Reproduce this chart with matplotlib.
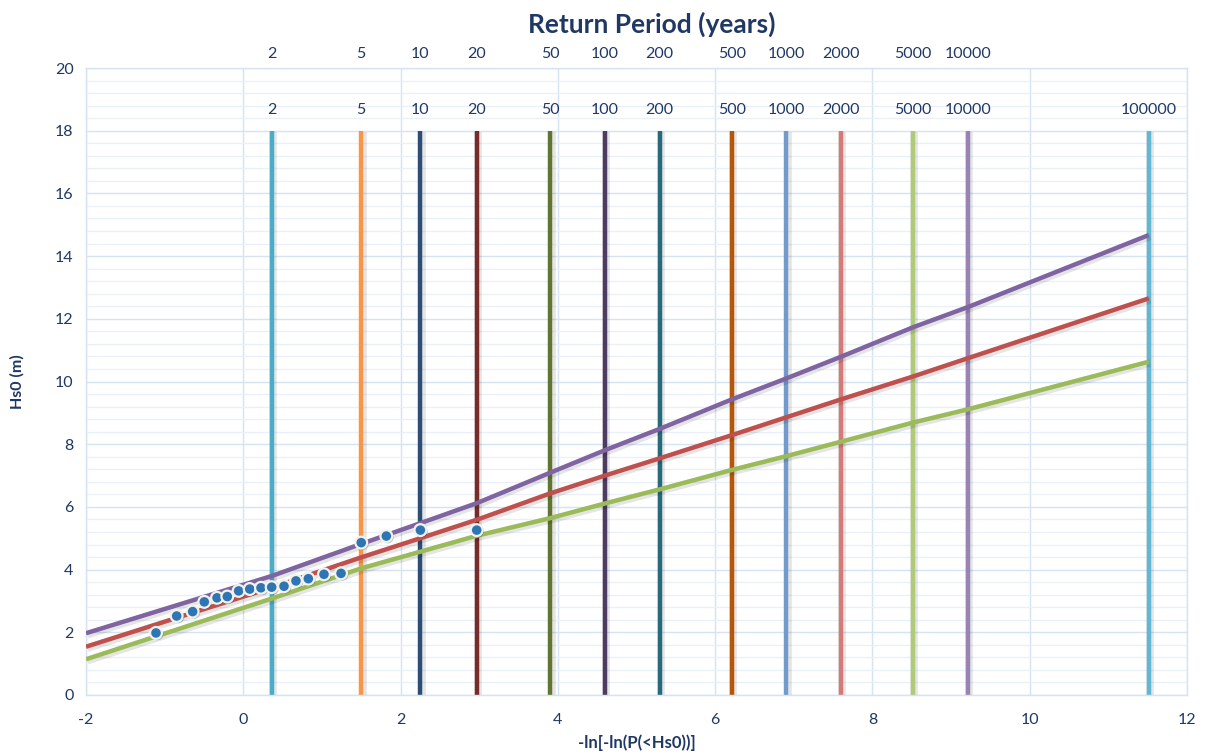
import matplotlib
matplotlib.use("Agg")
import matplotlib.pyplot as plt
import matplotlib.patheffects as pe
import numpy as np

# ---- data ----
return_periods = [2, 5, 10, 20, 50, 100, 200, 500, 1000, 2000, 5000, 10000, 100000]
period_colors = ["#4BACC6", "#F79646", "#2C4D75", "#772C2A", "#5F7530", "#4D3B62",
                 "#276A7C", "#B65708", "#729ACA", "#D47A77", "#AFCB77", "#9983B5", "#62B8D3"]
top_labels = [2, 5, 10, 20, 50, 100, 200, 500, 1000, 2000, 5000, 10000]

obs_x = [-1.110, -0.847, -0.644, -0.496, -0.334, -0.203, -0.059, 0.082, 0.225, 0.361,
         0.518, 0.670, 0.827, 1.026, 1.243, 1.500, 1.819, 2.252, 2.968]
obs_y = [1.98, 2.52, 2.66, 2.97, 3.10, 3.14, 3.32, 3.38, 3.42, 3.44,
         3.47, 3.64, 3.71, 3.85, 3.88, 4.86, 5.07, 5.26, 5.26]

# fitted curves, evaluated at x = -2 and at each return-period position
fit_start_x = -2.0
fit_upper = [1.97, 3.80, 4.82, 5.48, 6.12, 7.09, 7.81, 8.49, 9.43, 10.10, 10.79, 11.73, 12.37, 14.67]
fit_mid = [1.54, 3.43, 4.39, 5.00, 5.59, 6.43, 7.00, 7.55, 8.29, 8.86, 9.43, 10.16, 10.74, 12.65]
fit_lower = [1.14, 3.08, 4.04, 4.57, 5.08, 5.64, 6.11, 6.56, 7.18, 7.62, 8.08, 8.69, 9.11, 10.63]

text_color = "#1F3864"
grid_major = "#D6E3F3"
grid_minor = "#EAF0F8"

plt.rcParams['font.family'] = ['Lato', 'DejaVu Sans']
plt.rcParams['axes.unicode_minus'] = False

def gumbel_x(T):
    return -np.log(-np.log(1 - 1 / T))

fig = plt.figure(figsize=(12.09, 7.56), dpi=100)
ax = fig.add_axes([86 / 1209, 61 / 756, (1187 - 86) / 1209, (695 - 68) / 756])

ax.set_xlim(-2, 12)
ax.set_ylim(0, 20)
ax.set_xticks(np.arange(-2, 13, 2))
ax.set_yticks(np.arange(0, 21, 2))
ax.set_yticks(np.arange(0, 20.01, 0.4), minor=True)
ax.grid(True, which='major', color=grid_major, lw=1.0, zorder=0)
ax.grid(True, which='minor', axis='y', color=grid_minor, lw=1.0, zorder=0)
ax.set_axisbelow(True)
for s in ax.spines.values():
    s.set_color(grid_major)
    s.set_linewidth(1.0)
ax.tick_params(which='both', length=0, colors=text_color, labelsize=11.5, pad=9)
ax.tick_params(axis='x', pad=13)

shadow = [pe.SimpleLineShadow(offset=(1.0, -1.0), shadow_color='#000000', alpha=0.10, linewidth=5.5), pe.Normal()]

# vertical return-period lines
for T, c in zip(return_periods, period_colors):
    xv = gumbel_x(T)
    ax.plot([xv, xv], [0, 18], color=c, lw=3.2, zorder=2, solid_capstyle='butt', path_effects=shadow)
    ax.text(xv, 18.45, str(T), ha='center', va='bottom', color=text_color, fontsize=11.5, zorder=5)

# top labels above the plot area
for T in top_labels:
    ax.text(gumbel_x(T), 20.22, str(T), ha='center', va='bottom', color=text_color, fontsize=11.5,
            clip_on=False)

# fitted curves
curve_x = [fit_start_x] + [gumbel_x(T) for T in return_periods]
for vals, c in [(fit_upper, "#8064A2"), (fit_mid, "#C0504D"), (fit_lower, "#9BBB59")]:
    ax.plot(curve_x, vals, color=c, lw=3.2, zorder=3, solid_capstyle='butt', path_effects=shadow)

# observations
ax.plot(obs_x, obs_y, ls='none', marker='o', ms=8.5, mfc="#2E75B6", mec="#F2F2EA", mew=1.6, zorder=4,
        path_effects=[pe.SimplePatchShadow(offset=(1, -1), alpha=0.3), pe.Normal()])

ax.set_xlabel("-ln[-ln(P(<Hs0))]", color=text_color, fontsize=12, fontweight='bold', labelpad=5)
ax.set_ylabel("Hs0 (m)", color=text_color, fontsize=11.5, fontweight='bold', labelpad=22)
fig.text(652 / 1209, 0.985, "Return Period (years)", ha='center', va='top',
         color=text_color, fontsize=19, fontweight='bold')

fig.savefig("out.png", dpi=100)
